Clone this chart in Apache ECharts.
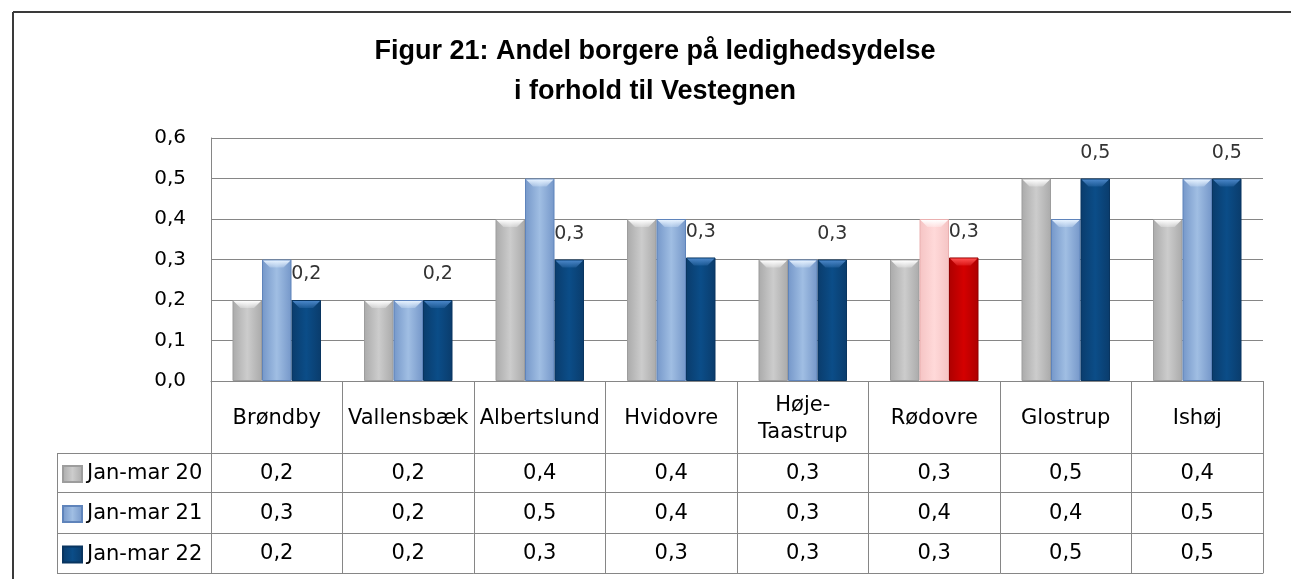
<!DOCTYPE html>
<html><head><meta charset="utf-8">
<script src="https://cdn.jsdelivr.net/npm/echarts@6/dist/echarts.min.js"></script>
<style>html,body{margin:0;padding:0;background:#fff}#c{width:1291px;height:579px}</style>
</head><body><div id="c"></div>
<script>
const categories = ['Brøndby','Vallensbæk','Albertslund','Hvidovre','Høje-\nTaastrup','Rødovre','Glostrup','Ishøj'];
const seriesNames = ['Jan-mar 20','Jan-mar 21','Jan-mar 22'];
const janMar20 = [0.2,0.2,0.4,0.4,0.3,0.3,0.5,0.4];
const janMar21 = [0.3,0.2,0.5,0.4,0.3,0.4,0.4,0.5];
const janMar22 = [0.2,0.2,0.3,0.305,0.3,0.305,0.5,0.5];
const highlightIndex = 5; // Rødovre
const yMin = 0, yMax = 0.6, yStep = 0.1;

const fmt = v => v.toFixed(1).replace('.', ',');
const FONT = 'DejaVu Sans';
const GRID = '#868686';
const BAR_W = 29.5;

function hgrad(edge, mid) {
  return new echarts.graphic.LinearGradient(0,0,1,0,[
    {offset:0,color:edge},{offset:0.5,color:mid},{offset:1,color:edge}]);
}
const palette = [
  {fill: hgrad('#aaaaaa','#cccccc'), border:'#9d9d9d', hi:'#ffffff'},
  {fill: hgrad('#7597c9','#a0bee3'), border:'#5f84bb', hi:'#e6f2ff'},
  {fill: hgrad('#0a3c6c','#0b4d88'), border:'#093560', hi:'#4a86c8'}
];
const hiPalette = [
  null,
  {fill: hgrad('#f5c4c4','#ffd9d9'), border:'#eab0b0', hi:'#ffffff'},
  {fill: hgrad('#ad0000','#d40000'), border:'#900000', hi:'#ff5050'}
];
const values = [janMar20, janMar21, janMar22];
const pal = (si, i) => (i === highlightIndex && hiPalette[si]) ? hiPalette[si] : palette[si];

const series = [];
seriesNames.forEach((name, si) => {
  series.push({
    name, type: 'bar', barWidth: BAR_W, barGap: '0%',
    itemStyle: {color: palette[si].fill, borderColor: palette[si].border, borderWidth: 1},
    data: values[si].map((v, i) => ({value: v,
      itemStyle: {color: pal(si, i).fill, borderColor: pal(si, i).border, borderWidth: 1}})),
    label: si === 2 ? {show: true, position: 'top', distance: 16, formatter: p => fmt(p.value),
      fontFamily: FONT, fontSize: 19, color: '#333'} : {show: false},
    emphasis: {disabled: true}
  });
});
// bevel highlight on top of each bar, positioned via the axes' scales
seriesNames.forEach((name, si) => {
  series.push({
    name: 'bevel-' + si, type: 'custom', silent: true, z: 3,
    xAxisIndex: 0, yAxisIndex: 0,
    data: values[si].map((v, i) => [i, v]),
    renderItem: (params, api) => {
      const i = api.value(0), v = api.value(1);
      const top = api.coord([i, v]);
      const cx = top[0] + (si - 1) * BAR_W;
      const x0 = cx - BAR_W / 2 + 1, x1 = cx + BAR_W / 2 - 1, y = top[1] + 1, d = 7;
      const p = pal(si, i);
      return {
        type: 'polygon',
        shape: {points: [[x0, y], [x1, y], [x1 - d, y + d], [x0 + d, y + d]]},
        style: {fill: new echarts.graphic.LinearGradient(0, 0, 0, 1, [
          {offset: 0, color: p.hi}, {offset: 1, color: echarts.color.modifyAlpha(p.hi, 0.25)}])}
      };
    }
  });
});

const rowOffsets = [72, 111, 152];
const rowHeights = [39, 41, 40];
const rowValues = [janMar20, janMar21, janMar22];
const TFS = 21;

const xAxes = [{
  type: 'category', data: categories, position: 'bottom',
  axisLine: {show: true, lineStyle: {color: GRID}},
  axisTick: {show: true, length: 72, interval: 0, lineStyle: {color: GRID}},
  axisLabel: {interval: 0, margin: 38, verticalAlign: 'middle', fontFamily: FONT, fontSize: TFS,
    color: '#000', lineHeight: 27}
}];
rowValues.forEach((vals, r) => {
  xAxes.push({
    type: 'category', data: categories, position: 'bottom', offset: rowOffsets[r],
    axisLine: {show: true, lineStyle: {color: GRID}},
    axisTick: {show: true, length: rowHeights[r], interval: 0, lineStyle: {color: GRID}},
    axisLabel: {interval: 0, margin: rowHeights[r] / 2 + 1, verticalAlign: 'middle', fontFamily: FONT,
      fontSize: TFS, color: '#000', formatter: (v, i) => fmt(vals[i])}
  });
});
xAxes.push({
  type: 'category', data: categories, position: 'bottom', offset: 192,
  axisLine: {show: true, lineStyle: {color: GRID}},
  axisTick: {show: false}, axisLabel: {show: false}
});

const legends = seriesNames.map((n, r) => ({
  data: [{name: n, icon: 'rect'}], left: 57, top: 381 + rowOffsets[r] + rowHeights[r] / 2 - 14,
  itemWidth: 19, itemHeight: 16, itemGap: 5, selectedMode: false,
  textStyle: {fontFamily: FONT, fontSize: TFS, color: '#000', lineHeight: 21}
}));

const L = (x1,y1,x2,y2,w,c) => ({type:'line', shape:{x1,y1,x2,y2}, style:{stroke:c, lineWidth:w}, silent:true});

const chart = echarts.init(document.getElementById('c'), null, {renderer: 'canvas'});
chart.setOption({
  animation: false,
  backgroundColor: '#fff',
  title: {
    text: 'Figur 21: Andel borgere på ledighedsydelse\ni forhold til Vestegnen',
    left: 650, top: 27, textAlign: 'center',
    textStyle: {fontFamily: 'Liberation Sans', fontWeight: 'bold', fontSize: 27,
      color: '#000', lineHeight: 40}
  },
  legend: legends,
  grid: {left: 211, right: 28, top: 138, bottom: 198, containLabel: false},
  xAxis: xAxes,
  yAxis: {
    type: 'value', min: yMin, max: yMax, interval: yStep,
    axisLine: {show: true, lineStyle: {color: GRID}},
    axisTick: {show: false},
    splitLine: {show: true, lineStyle: {color: GRID, width: 1}},
    axisLabel: {margin: 25, formatter: v => fmt(v), fontFamily: FONT, fontSize: 20, color: '#000'}
  },
  series,
  graphic: [
    L(13, 12, 1291, 12, 2, '#3a3a3a'),
    L(13, 12, 13, 579, 2, '#3a3a3a'),
    L(57, 453.5, 211, 453.5, 1, GRID),
    L(57, 492.5, 211, 492.5, 1, GRID),
    L(57, 533.5, 211, 533.5, 1, GRID),
    L(57, 573.5, 211, 573.5, 1, GRID),
    L(57.5, 453, 57.5, 574, 1, GRID)
  ]
});
</script></body></html>
